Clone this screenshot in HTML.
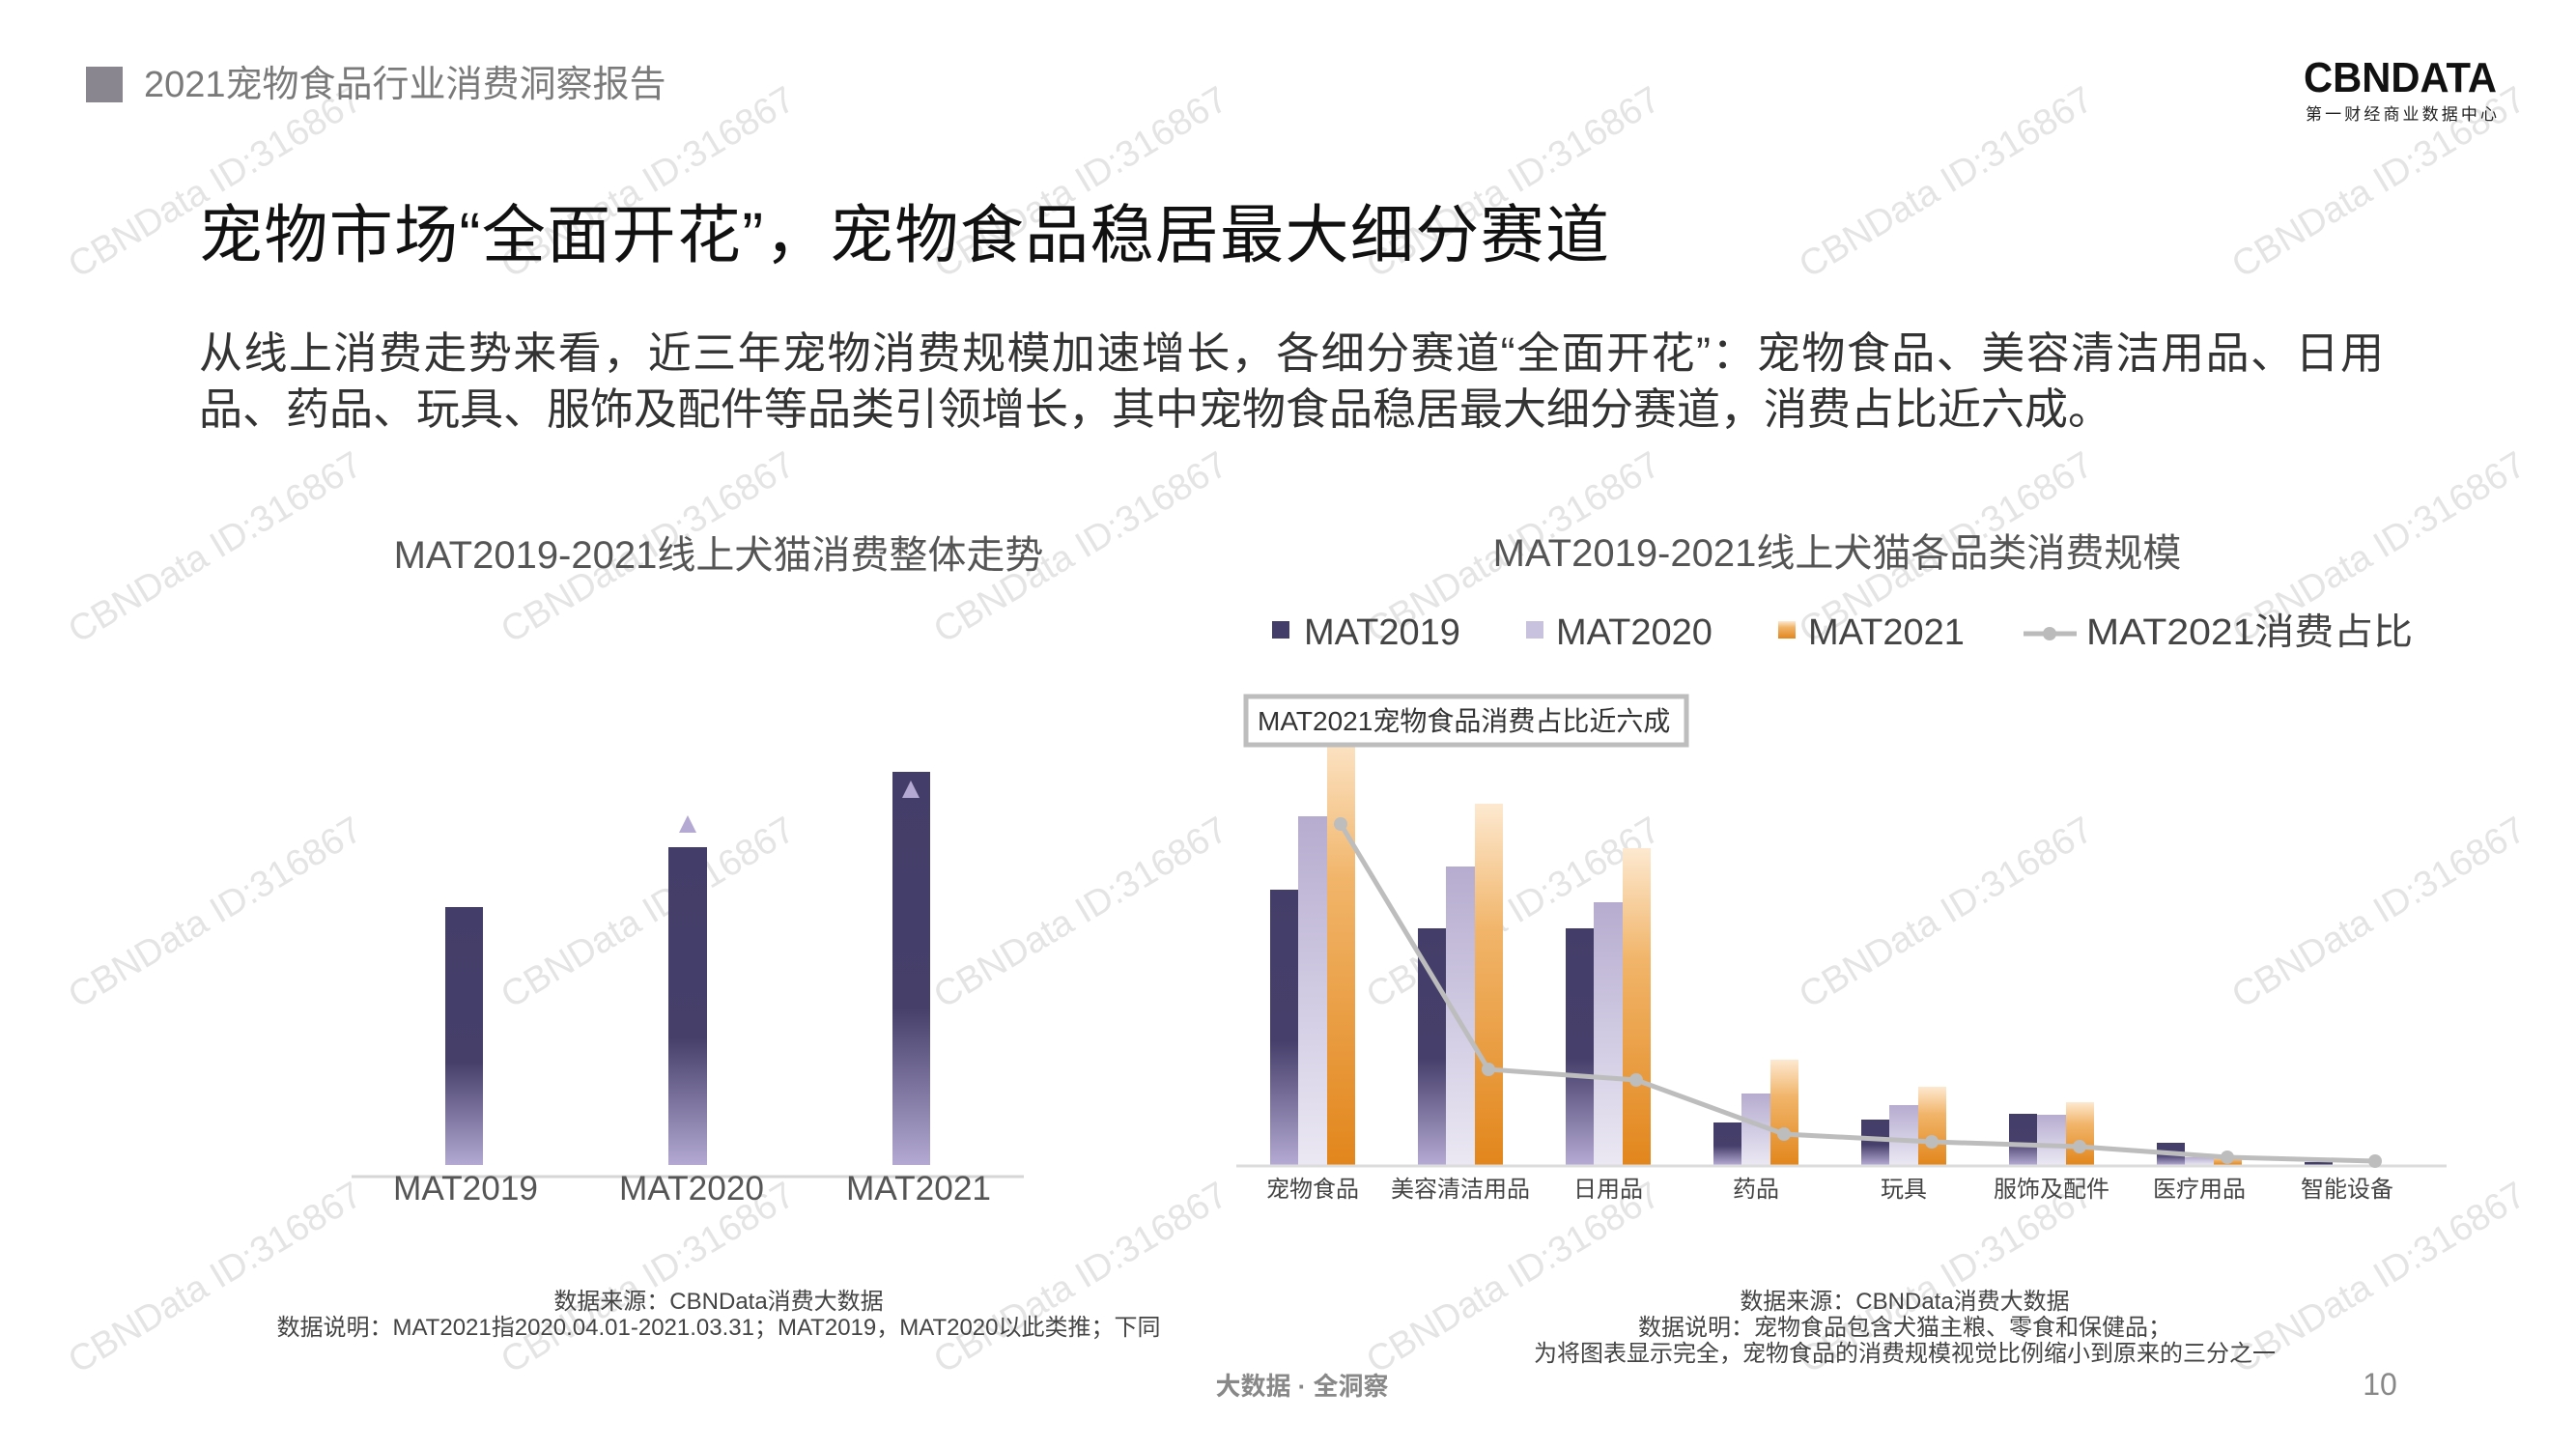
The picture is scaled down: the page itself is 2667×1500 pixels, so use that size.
<!DOCTYPE html>
<html><head><meta charset="utf-8"><style>
html,body{margin:0;padding:0;background:#fff;}
svg{display:block;}
text{font-family:"Liberation Sans","Noto Sans CJK SC",sans-serif;}
</style></head><body>
<svg width="2667" height="1500" viewBox="0 0 2667 1500" xmlns="http://www.w3.org/2000/svg">
<defs>
<linearGradient id="gd" x1="0" y1="0" x2="0" y2="1"><stop offset="0" stop-color="#433e69"/><stop offset="0.55" stop-color="#463f6b"/><stop offset="1" stop-color="#b4aad3"/></linearGradient>
<linearGradient id="gdb" x1="0" y1="0" x2="0" y2="1"><stop offset="0" stop-color="#433e69"/><stop offset="0.6" stop-color="#453f6a"/><stop offset="1" stop-color="#b3a9d2"/></linearGradient>
<linearGradient id="gl" x1="0" y1="0" x2="0" y2="1"><stop offset="0" stop-color="#b6accf"/><stop offset="0.5" stop-color="#d0cae2"/><stop offset="1" stop-color="#ebe8f3"/></linearGradient>
<linearGradient id="go" x1="0" y1="0" x2="0" y2="1"><stop offset="0" stop-color="#fde9d0"/><stop offset="0.35" stop-color="#f1b56a"/><stop offset="1" stop-color="#e2861c"/></linearGradient>
</defs>
<g fill="#e4e4e4" font-size="38" text-anchor="middle">
<g transform="translate(223,189) rotate(-31)"><text y="12">CBNData ID:316867</text></g>
<g transform="translate(671,189) rotate(-31)"><text y="12">CBNData ID:316867</text></g>
<g transform="translate(1119,189) rotate(-31)"><text y="12">CBNData ID:316867</text></g>
<g transform="translate(1567,189) rotate(-31)"><text y="12">CBNData ID:316867</text></g>
<g transform="translate(2015,189) rotate(-31)"><text y="12">CBNData ID:316867</text></g>
<g transform="translate(2463,189) rotate(-31)"><text y="12">CBNData ID:316867</text></g>
<g transform="translate(223,567) rotate(-31)"><text y="12">CBNData ID:316867</text></g>
<g transform="translate(671,567) rotate(-31)"><text y="12">CBNData ID:316867</text></g>
<g transform="translate(1119,567) rotate(-31)"><text y="12">CBNData ID:316867</text></g>
<g transform="translate(1567,567) rotate(-31)"><text y="12">CBNData ID:316867</text></g>
<g transform="translate(2015,567) rotate(-31)"><text y="12">CBNData ID:316867</text></g>
<g transform="translate(2463,567) rotate(-31)"><text y="12">CBNData ID:316867</text></g>
<g transform="translate(223,945) rotate(-31)"><text y="12">CBNData ID:316867</text></g>
<g transform="translate(671,945) rotate(-31)"><text y="12">CBNData ID:316867</text></g>
<g transform="translate(1119,945) rotate(-31)"><text y="12">CBNData ID:316867</text></g>
<g transform="translate(1567,945) rotate(-31)"><text y="12">CBNData ID:316867</text></g>
<g transform="translate(2015,945) rotate(-31)"><text y="12">CBNData ID:316867</text></g>
<g transform="translate(2463,945) rotate(-31)"><text y="12">CBNData ID:316867</text></g>
<g transform="translate(223,1323) rotate(-31)"><text y="12">CBNData ID:316867</text></g>
<g transform="translate(671,1323) rotate(-31)"><text y="12">CBNData ID:316867</text></g>
<g transform="translate(1119,1323) rotate(-31)"><text y="12">CBNData ID:316867</text></g>
<g transform="translate(1567,1323) rotate(-31)"><text y="12">CBNData ID:316867</text></g>
<g transform="translate(2015,1323) rotate(-31)"><text y="12">CBNData ID:316867</text></g>
<g transform="translate(2463,1323) rotate(-31)"><text y="12">CBNData ID:316867</text></g>
</g>
<rect x="89" y="69" width="38" height="37" fill="#8a8690"/>
<text x="149" y="100" font-size="38" fill="#7a7a7a">2021宠物食品行业消费洞察报告</text>
<text x="2385" y="95" font-size="44" font-weight="bold" fill="#111" textLength="200" lengthAdjust="spacingAndGlyphs">CBNDATA</text>
<text x="2387" y="124" font-size="17" fill="#222" textLength="198" lengthAdjust="spacing">第一财经商业数据中心</text>
<text x="206" y="266" font-size="66" fill="#111" textLength="1460" lengthAdjust="spacing">宠物市场“全面开花”，宠物食品稳居最大细分赛道</text>
<text x="206" y="381" font-size="45" fill="#333" textLength="2262" lengthAdjust="spacing">从线上消费走势来看，近三年宠物消费规模加速增长，各细分赛道“全面开花”：宠物食品、美容清洁用品、日用</text>
<text x="206" y="439" font-size="45" fill="#333">品、药品、玩具、服饰及配件等品类引领增长，其中宠物食品稳居最大细分赛道，消费占比近六成。</text>
<text x="744" y="588" font-size="40" fill="#555" text-anchor="middle">MAT2019-2021线上犬猫消费整体走势</text>
<rect x="461" y="939" width="39" height="267" fill="url(#gdb)"/>
<rect x="692" y="877" width="40" height="329" fill="url(#gdb)"/>
<rect x="924" y="799" width="39" height="407" fill="url(#gdb)"/>
<polygon points="712,844 703,862 721,862" fill="#b3a9d2"/>
<polygon points="943,808 934,826 952,826" fill="#b3a9d2"/>
<line x1="364" y1="1218" x2="1060" y2="1218" stroke="#d6d6d6" stroke-width="3"/>
<g font-size="35" fill="#555" text-anchor="middle">
<text x="482" y="1242" textLength="150" lengthAdjust="spacingAndGlyphs">MAT2019</text><text x="716" y="1242" textLength="150" lengthAdjust="spacingAndGlyphs">MAT2020</text><text x="951" y="1242" textLength="150" lengthAdjust="spacingAndGlyphs">MAT2021</text></g>
<g font-size="24" fill="#444" text-anchor="middle">
<text x="744" y="1355">数据来源：CBNData消费大数据</text>
<text x="744" y="1382">数据说明：MAT2021指2020.04.01-2021.03.31；MAT2019，MAT2020以此类推；下同</text></g>
<text x="1902" y="586" font-size="40" fill="#555" text-anchor="middle">MAT2019-2021线上犬猫各品类消费规模</text>
<rect x="1317" y="643" width="18" height="18" fill="#433e69"/>
<text x="1350" y="667" font-size="38" fill="#444">MAT2019</text>
<rect x="1580" y="643" width="18" height="18" fill="#c9c2df"/>
<text x="1611" y="667" font-size="38" fill="#444">MAT2020</text>
<rect x="1841" y="643" width="18" height="18" fill="url(#go)"/>
<text x="1872" y="667" font-size="38" fill="#444">MAT2021</text>
<line x1="2095" y1="656" x2="2150" y2="656" stroke="#bbb" stroke-width="5"/>
<circle cx="2122" cy="656" r="7" fill="#bbb"/>
<text x="2160" y="667" font-size="38" fill="#444" textLength="338" lengthAdjust="spacingAndGlyphs">MAT2021消费占比</text>
<g>
<rect x="1315" y="921" width="29" height="285" fill="url(#gd)"/><rect x="1344" y="845" width="30" height="361" fill="url(#gl)"/><rect x="1374" y="750" width="29" height="456" fill="url(#go)"/>
<rect x="1468" y="961" width="29" height="245" fill="url(#gd)"/><rect x="1497" y="897" width="30" height="309" fill="url(#gl)"/><rect x="1527" y="832" width="29" height="374" fill="url(#go)"/>
<rect x="1621" y="961" width="29" height="245" fill="url(#gd)"/><rect x="1650" y="934" width="30" height="272" fill="url(#gl)"/><rect x="1680" y="878" width="29" height="328" fill="url(#go)"/>
<rect x="1774" y="1162" width="29" height="44" fill="url(#gd)"/><rect x="1803" y="1132" width="30" height="74" fill="url(#gl)"/><rect x="1833" y="1097" width="29" height="109" fill="url(#go)"/>
<rect x="1927" y="1159" width="29" height="47" fill="url(#gd)"/><rect x="1956" y="1144" width="30" height="62" fill="url(#gl)"/><rect x="1986" y="1125" width="29" height="81" fill="url(#go)"/>
<rect x="2080" y="1153" width="29" height="53" fill="url(#gd)"/><rect x="2109" y="1154" width="30" height="52" fill="url(#gl)"/><rect x="2139" y="1141" width="29" height="65" fill="url(#go)"/>
<rect x="2233" y="1183" width="29" height="23" fill="url(#gd)"/><rect x="2262" y="1198" width="30" height="8" fill="url(#gl)"/><rect x="2292" y="1198" width="29" height="8" fill="url(#go)"/>
<rect x="2386" y="1203" width="29" height="3" fill="#433e69"/>
</g>
<line x1="1280" y1="1207" x2="2533" y2="1207" stroke="#dcdcdc" stroke-width="3"/>
<polyline points="1388,853 1541,1107 1694,1118 1847,1174 2000,1182 2153,1187 2306,1198 2459,1202" fill="none" stroke="#bdbdbd" stroke-width="5"/>
<g fill="#bdbdbd"><circle cx="1388" cy="853" r="7"/><circle cx="1541" cy="1107" r="7"/><circle cx="1694" cy="1118" r="7"/><circle cx="1847" cy="1174" r="7"/><circle cx="2000" cy="1182" r="7"/><circle cx="2153" cy="1187" r="7"/><circle cx="2306" cy="1198" r="7"/><circle cx="2459" cy="1202" r="7"/></g>
<rect x="1290" y="721" width="456" height="50" fill="#fff" stroke="#bdbdbd" stroke-width="5"/>
<text x="1302" y="756" font-size="28" fill="#333">MAT2021宠物食品消费占比近六成</text>
<g font-size="24" fill="#444" text-anchor="middle">
<text x="1359" y="1239">宠物食品</text><text x="1512" y="1239">美容清洁用品</text><text x="1665" y="1239">日用品</text><text x="1818" y="1239">药品</text><text x="1971" y="1239">玩具</text><text x="2124" y="1239">服饰及配件</text><text x="2277" y="1239">医疗用品</text><text x="2430" y="1239">智能设备</text></g>
<g font-size="24" fill="#444" text-anchor="middle">
<text x="1972" y="1355">数据来源：CBNData消费大数据</text>
<text x="1972" y="1382">数据说明：宠物食品包含犬猫主粮、零食和保健品；</text>
<text x="1972" y="1409">为将图表显示完全，宠物食品的消费规模视觉比例缩小到原来的三分之一</text></g>
<text x="1348" y="1444" font-size="26" font-weight="bold" fill="#888" text-anchor="middle">大数据 · 全洞察</text>
<text x="2464" y="1456" font-size="32" fill="#888" text-anchor="middle" transform="translate(0,-12)">10</text>
</svg>
</body></html>
